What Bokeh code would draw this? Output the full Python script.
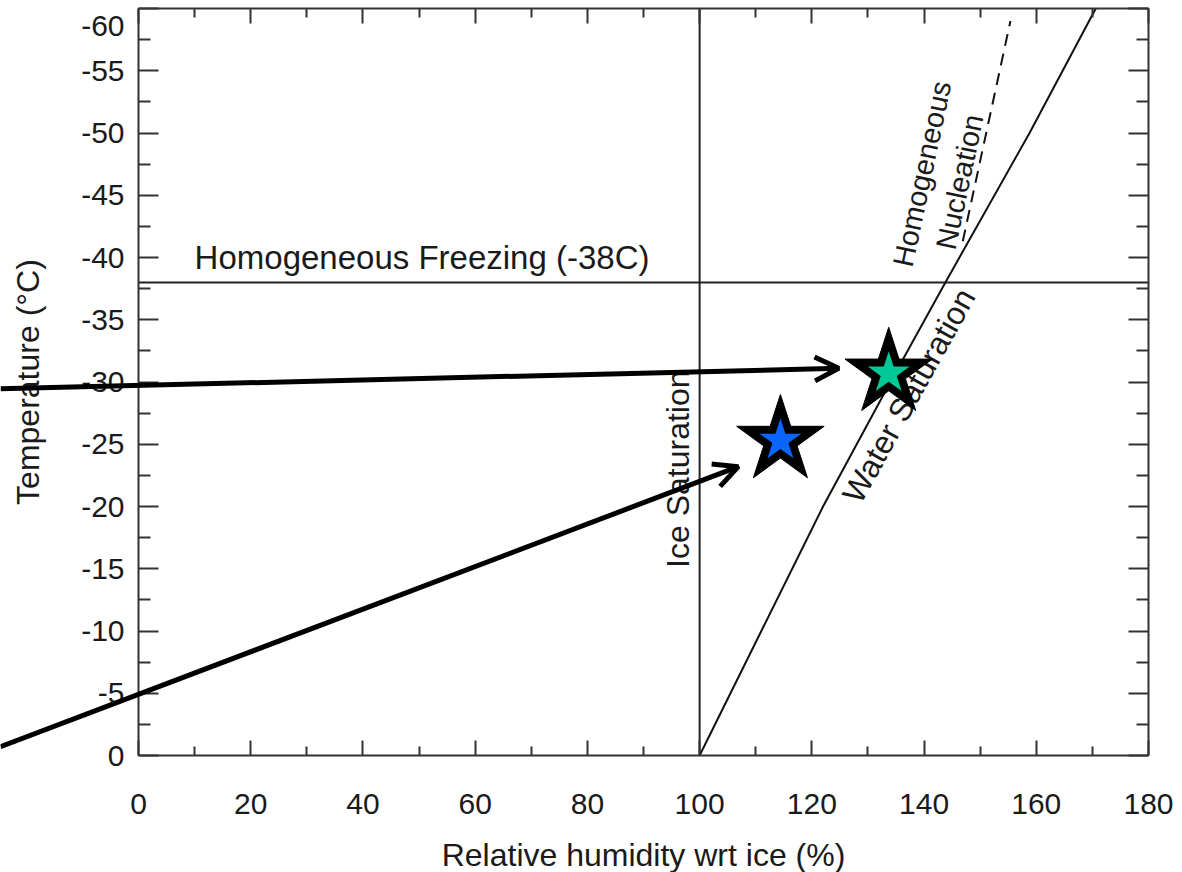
import math
from bokeh.plotting import figure
from bokeh.models import (Range1d, LinearAxis, FixedTicker, Arrow, OpenHead,
                          Label, ColumnDataSource)
from bokeh.core.properties import value
from bokeh.embed import file_html
from bokeh.resources import INLINE

# ---------------- data ----------------
x_ticks = [0, 20, 40, 60, 80, 100, 120, 140, 160, 180]
x_minor = [10, 30, 50, 70, 90, 110, 130, 150, 170]
y_ticks = [0, -5, -10, -15, -20, -25, -30, -35, -40, -45, -50, -55, -60]
y_minor = [-2.5, -7.5, -12.5, -17.5, -22.5, -27.5, -32.5, -37.5, -42.5, -47.5, -52.5, -57.5]
x_lim = [0, 180]
y_lim = [0, -60]

ice_sat_rh = [100, 100]
ice_sat_t = [0, -60]

freeze_rh = [0, 180]
freeze_t = [-38, -38]

water_t = [0, -10, -20, -30, -38, -50, -60]
water_rh = [100, 111, 122, 134, 143.8, 158.8, 170.6]

nucl_t = [-41.3, -59.0]
nucl_rh = [146.9, 155.4]

star_rh = [114.4, 133.7]
star_t = [-25.3, -30.7]
star_colors = ["#0A66FF", "#00C896"]

arrow_x0 = [-24.6, -24.6]
arrow_y0 = [-0.7, -29.45]
arrow_x1 = [106.9, 124.8]
arrow_y1 = [-23.2, -31.1]

FONT = "Liberation Sans"
TXT = "#1a1a1a"
AX = "#333333"

# page geometry: frame fills the whole canvas, axes are pinned at data locations
W, H = 1182, 872
FL, FR, FT, FB = 138, 1148, 8, 755          # pixel box of the axes
sx = (FR - FL) / (x_lim[1] - x_lim[0])
sy = (FB - FT) / (y_lim[0] - y_lim[1])
x_range = Range1d(x_lim[0] - FL / sx, x_lim[1] + (W - FR) / sx)
y_range = Range1d(y_lim[0] + (H - FB) / sy, y_lim[1] - FT / sy)

p = figure(width=W, height=H, x_range=x_range, y_range=y_range,
           output_backend="svg", toolbar_location=None,
           min_border=0, min_border_left=0, min_border_right=0,
           min_border_top=0, min_border_bottom=0)
p.grid.visible = False
p.outline_line_color = None
p.background_fill_color = "white"
p.border_fill_color = "white"

def style_axis(ax, ticks, minor, major_in, minor_in, show_labels, loc, bounds):
    ax.ticker = FixedTicker(ticks=ticks, minor_ticks=minor)
    ax.fixed_location = loc
    ax.bounds = bounds
    ax.axis_line_color = AX
    ax.axis_line_width = 2
    ax.major_tick_line_color = AX
    ax.major_tick_line_width = 2
    ax.minor_tick_line_color = AX
    ax.minor_tick_line_width = 2
    ax.major_tick_in = major_in
    ax.major_tick_out = 0
    ax.minor_tick_in = minor_in
    ax.minor_tick_out = 0
    ax.major_label_text_font = FONT
    ax.major_label_text_font_size = "30px"
    if show_labels:
        ax.major_label_text_color = TXT
    else:
        ax.major_label_text_color = None
        ax.major_label_standoff = 0

xa = p.xaxis[0]
style_axis(xa, x_ticks, x_minor, 15, 9, True, y_lim[0], (x_lim[0], x_lim[1]))
xa.major_label_standoff = 38
xa.axis_label = "Relative humidity wrt ice (%)"
xa.axis_label_text_font = FONT
xa.axis_label_text_font_size = "32px"
xa.axis_label_text_font_style = "normal"
xa.axis_label_text_color = TXT
xa.axis_label_standoff = 20

ya = p.yaxis[0]
style_axis(ya, y_ticks, y_minor, 20, 12, True, x_lim[0], (y_lim[1], y_lim[0]))
ya.major_label_standoff = 14
ya.major_label_overrides = {t: ("" if t == -60 else str(t)) for t in y_ticks}
ya.axis_label = "Temperature (°C)"
ya.axis_label_text_font = FONT
ya.axis_label_text_font_size = "32px"
ya.axis_label_text_font_style = "normal"
ya.axis_label_text_color = TXT
ya.axis_label_standoff = 32

top = LinearAxis()
style_axis(top, x_ticks, x_minor, 15, 9, False, y_lim[1], (x_lim[0], x_lim[1]))
p.add_layout(top, "above")
right = LinearAxis()
style_axis(right, y_ticks, y_minor, 20, 12, False, x_lim[1], (y_lim[1], y_lim[0]))
p.add_layout(right, "right")

# reference lines
p.line(ice_sat_rh, ice_sat_t, line_color="#222222", line_width=2)
p.line(freeze_rh, freeze_t, line_color="#222222", line_width=2)
p.line(water_rh, water_t, line_color="#111111", line_width=2)
p.line(nucl_rh, nucl_t, line_color="#111111", line_width=2, line_dash="12 8")

# labels
def txt(x, y, s, angle=0.0, align="center", baseline="middle", size="32px"):
    p.text(x=[x], y=[y], text=[s], angle=angle, text_align=align, text_baseline=baseline,
           text_font=value(FONT), text_font_size=size, text_color=TXT)

txt(10.0, -40.0, "Homogeneous Freezing (-38C)", align="left", size="33px")
txt(96.2, -23.0, "Ice Saturation", angle=math.pi / 2)
txt(137.3, -28.9, "Water Saturation", angle=math.radians(61))
txt(143.0, -46.4, "Homogeneous\nNucleation", angle=math.radians(78), size="29px")

# top y tick label, nudged inside the page as in the reference
p.add_layout(Label(x=x_lim[0], y=y_lim[1], x_offset=-14, y_offset=-17, text=str(y_ticks[-1]),
                   text_align="right", text_baseline="middle", text_font=FONT,
                   text_font_size="30px", text_color=TXT))

# stars
p.scatter(star_rh, star_t, marker="star", size=92, fill_color="black", line_color="black")
p.scatter(star_rh, star_t, marker="star", size=44, fill_color=star_colors, line_color=None)

# arrows
asrc = ColumnDataSource(dict(x0=arrow_x0, y0=arrow_y0, x1=arrow_x1, y1=arrow_y1))
p.add_layout(Arrow(end=OpenHead(line_width=5, size=24, line_color="black"),
                   x_start="x0", y_start="y0", x_end="x1", y_end="y1",
                   source=asrc, line_width=5, line_color="black"))

open("out.html", "w").write(file_html(p, INLINE))
